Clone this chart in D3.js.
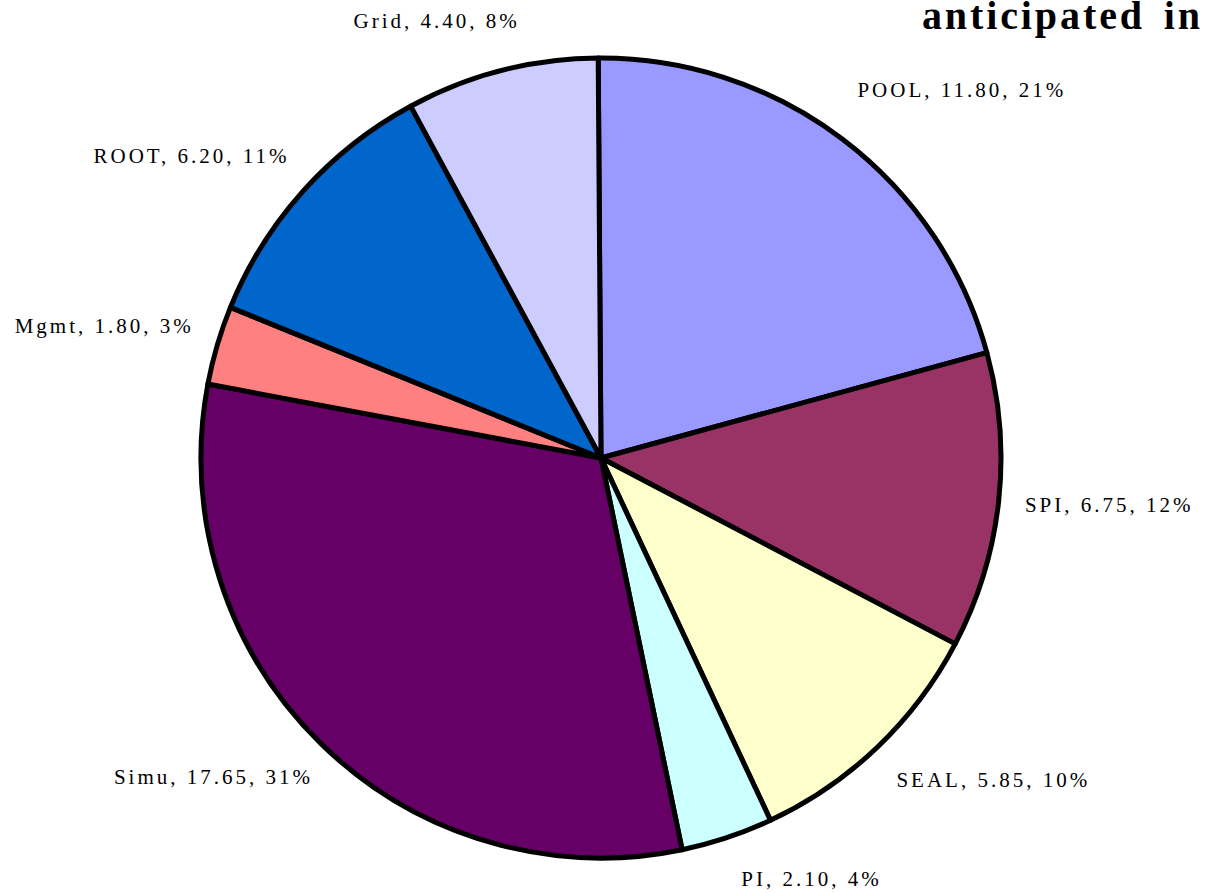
<!DOCTYPE html>
<html>
<head>
<meta charset="utf-8">
<script src="https://cdn.jsdelivr.net/npm/d3@7"></script>
<style>
  html, body { margin: 0; padding: 0; background: #fff; }
  svg { display: block; }
</style>
</head>
<body>
<svg id="chart" width="1210" height="893"></svg>
<script>
const categories = ["POOL", "SPI", "SEAL", "PI", "Simu", "Mgmt", "ROOT", "Grid"];
const values = [11.80, 6.75, 5.85, 2.10, 17.65, 1.80, 6.20, 4.40];
const percents = ["21%", "12%", "10%", "4%", "31%", "3%", "11%", "8%"];
const colors = ["#9999FF", "#993366", "#FFFFCC", "#CCFFFF", "#660066", "#FF8080", "#0066CC", "#CCCCFF"];
const titleText = "anticipated in";

// layout-only nudges for the outside labels (pixels), mimicking the original placement
const labelNudgeX = [29, -18, 18, 48, -6, 16, -5, -33];
const labelNudgeY = [-4, -2, -8, -13, -7, -3, 3, 6];

const svg = d3.select("#chart");
const cx = 601, cy = 458, radius = 400, labelR = 445;

const data = categories.map((c, i) => ({ name: c, value: values[i], pct: percents[i], color: colors[i], i }));

const pie = d3.pie().sort(null).value(d => d.value).startAngle(-0.007).endAngle(2 * Math.PI - 0.007);
const arc = d3.arc().innerRadius(0).outerRadius(radius);
const arcs = pie(data);

const g = svg.append("g").attr("transform", `translate(${cx},${cy})`);

g.selectAll("path.slice")
  .data(arcs)
  .join("path")
  .attr("class", "slice")
  .attr("d", arc)
  .attr("fill", d => d.data.color)
  .attr("stroke", "#000")
  .attr("stroke-width", 5)
  .attr("stroke-linejoin", "round");

const labels = g.selectAll("text.lbl")
  .data(arcs)
  .join("text")
  .attr("class", "lbl")
  .attr("font-family", "'Liberation Serif', 'Times New Roman', serif")
  .attr("font-size", 21)
  .attr("letter-spacing", "3px")
  .attr("fill", "#000")
  .attr("text-anchor", "middle")
  .attr("dominant-baseline", "central")
  .text(d => `${d.data.name}, ${d3.format(".2f")(d.data.value)}, ${d.data.pct}`);

labels.each(function(d) {
  const bb = this.getBBox();
  const a = (d.startAngle + d.endAngle) / 2;
  const s = Math.sin(a), c = -Math.cos(a);
  const px = labelR * s, py = labelR * c;
  const x = px + (bb.width / 2) * s + labelNudgeX[d.data.i];
  const y = py + (bb.height / 2) * c + labelNudgeY[d.data.i];
  d3.select(this).attr("x", x).attr("y", y);
});

// title, at the top-right as in the source
svg.append("text")
  .attr("x", 1203)
  .attr("y", 29)
  .attr("text-anchor", "end")
  .attr("font-family", "'Liberation Serif', 'Times New Roman', serif")
  .attr("font-weight", "bold")
  .attr("font-size", 40)
  .attr("letter-spacing", "2.9px")
  .attr("word-spacing", "6px")
  .attr("fill", "#000")
  .text(titleText);
</script>
</body>
</html>
